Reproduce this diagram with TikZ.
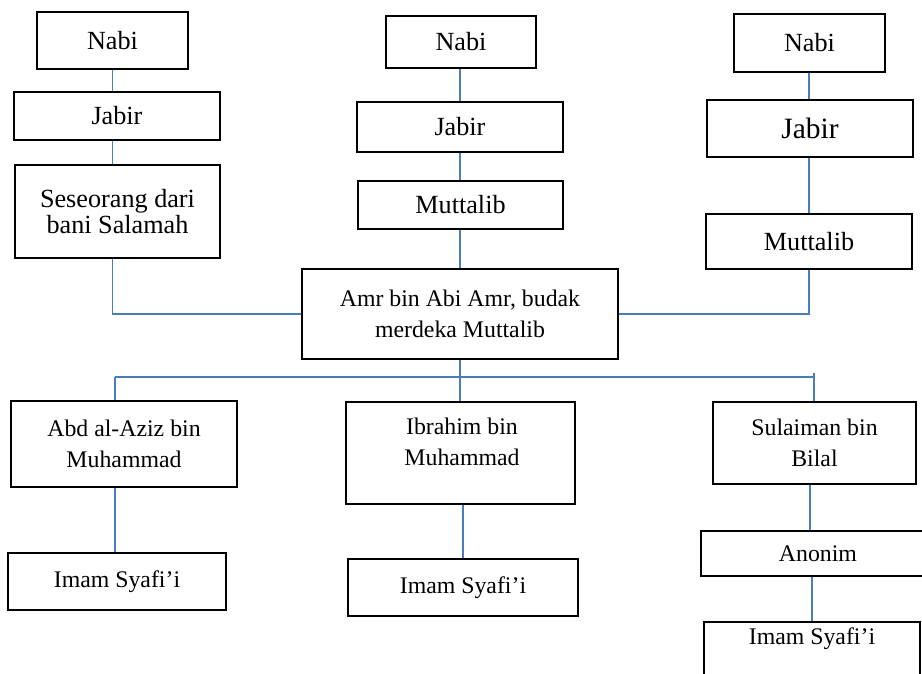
\documentclass[tikz,border=0pt]{standalone}
\usepackage{fontspec}
\setmainfont{Liberation Serif}
\definecolor{lineblue}{HTML}{4A7EBB}
\begin{document}
\begin{tikzpicture}[x=1pt,y=-1pt,
  box/.style={draw=black, line width=1.2pt, inner sep=0pt, align=center},
  txt/.style={inner sep=0pt, align=center},
  link/.style={draw=lineblue, line width=1.6pt},
  big/.style={font=\fontsize{26.2}{26}\selectfont},
  bigger/.style={font=\fontsize{29.5}{30}\selectfont},
  small/.style={font=\fontsize{23.8}{31}\selectfont}]
\clip (0,0) rectangle (922,674);
\fill[white] (0,0) rectangle (922,674);
% left column
\node[box,big,minimum width=151pt,minimum height=57pt] (n1) at (112.5,40.5) {Nabi};
\node[box,big,minimum width=206pt,minimum height=48pt] (j1) at (117,116) {Jabir};
\node[box,big,minimum width=205pt,minimum height=93pt] (s1) at (117.5,211.5) {Seseorang dari\\bani Salamah};
% middle column
\node[box,big,minimum width=150pt,minimum height=52pt] (n2) at (461,42) {Nabi};
\node[box,big,minimum width=206pt,minimum height=50pt] (j2) at (460,127) {Jabir};
\node[box,big,minimum width=205pt,minimum height=48pt] (m2) at (460.5,205) {Muttalib};
\node[box,small,minimum width=316pt,minimum height=90pt] (amr) at (460,314) {Amr bin Abi Amr, budak\\merdeka Muttalib};
% right column
\node[box,big,minimum width=151pt,minimum height=58pt] (n3) at (809.5,43) {Nabi};
\node[box,bigger,minimum width=206pt,minimum height=57pt] (j3) at (810,128.5) {Jabir};
\node[box,big,minimum width=206pt,minimum height=55pt] (m3) at (809,241.5) {Muttalib};
% lower row
\node[box,small,minimum width=226pt,minimum height=86pt] (abd) at (124,444) {Abd al-Aziz bin\\Muhammad};
\node[box,small,minimum width=218pt,minimum height=57pt] (im1) at (117,581.5) {Imam Syafi’i};
\node[box,minimum width=229pt,minimum height=102pt] (ibr) at (460.5,453) {};
\node[txt,small] (ibrt) at (462,442) {Ibrahim bin\\Muhammad};
\node[box,small,minimum width=230pt,minimum height=57pt] (im2) at (463,587.5) {Imam Syafi’i};
\node[box,small,minimum width=203pt,minimum height=82pt] (sul) at (814.5,443) {Sulaiman bin\\Bilal};
\node[box,small,minimum width=234pt,minimum height=45pt] (ano) at (818,553.5) {Anonim};
\node[box,minimum width=216pt,minimum height=78pt] (im3) at (812,661) {};
\node[txt,small] (im3t) at (812,639) {Imam Syafi’i};
% bus coordinates
\coordinate (busL) at (115,377);
\coordinate (busR) at (814,377);
\coordinate (tick) at (814,373);
% connectors
\draw[link] (n1.south) -- (n1.south |- j1.north);
\draw[link] (j1.south -| n1.south) -- (s1.north -| n1.south);
\draw[link] (s1.south -| n1.south) |- (amr.west);
\draw[link] (n2.south -| amr.north) -- (j2.north -| amr.north);
\draw[link] (j2.south -| amr.north) -- (m2.north -| amr.north);
\draw[link] (m2.south -| amr.north) -- (amr.north);
\draw[link] (n3.south -| m3.south) -- (j3.north -| m3.south);
\draw[link] (j3.south -| m3.south) -- (m3.north);
\draw[link] (m3.south) |- (amr.east);
\draw[link] (amr.south) -- (amr.south |- ibr.north);
\draw[link] (busL) -- (busR) -- (tick);
\draw[link] (busL) -- (busL |- abd.north);
\draw[link] (busR) -- (busR |- sul.north);
\draw[link] (abd.south -| busL) -- (im1.north -| busL);
\draw[link] (ibr.south -| im2.north) -- (im2.north);
\draw[link] (sul.south -| 810,0) -- (ano.north -| 810,0);
\draw[link] (ano.south -| im3.north) -- (im3.north);
\end{tikzpicture}
\end{document}
